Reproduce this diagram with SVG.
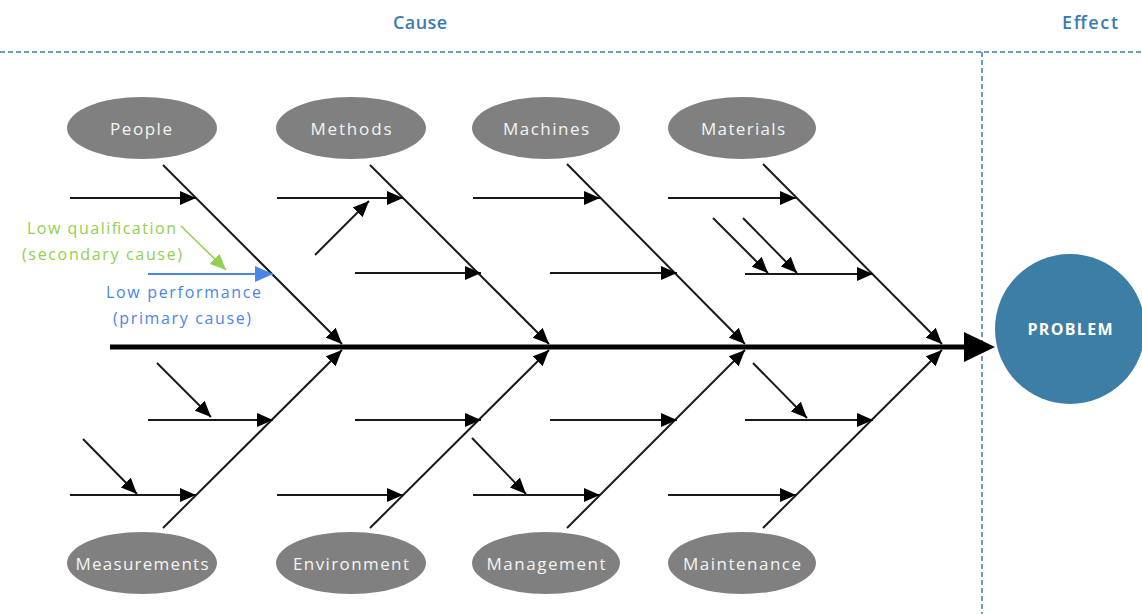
<svg xmlns="http://www.w3.org/2000/svg" width="1142" height="614" viewBox="0 0 1142 614">
<style>
.cat{fill:#808080}
.cat-t{font-family:"Open Sans","Liberation Sans",sans-serif;font-size:17px;fill:#f4f4f4;text-anchor:middle;dominant-baseline:central}
.hdr{font-family:"Open Sans","Liberation Sans",sans-serif;font-size:18px;font-weight:600;fill:#3b7cb0;text-anchor:middle}
.dash{stroke:#3d7ea6;stroke-width:1.5;stroke-dasharray:5 3;fill:none}
.bone{stroke:#1a1a1a;stroke-width:2;fill:none;marker-end:url(#ah)}
.sub{stroke:#1a1a1a;stroke-width:2;fill:none;marker-end:url(#ah)}
.note{font-family:"Open Sans","Liberation Sans",sans-serif;font-size:16px}
</style>
<defs>
<marker id="ah" markerUnits="userSpaceOnUse" markerWidth="16" markerHeight="14" viewBox="0 0 16 14" refX="16" refY="7" orient="auto">
<path d="M0,0 L16,7 L0,14 Z" fill="#000"/>
</marker>
<marker id="ahg" markerUnits="userSpaceOnUse" markerWidth="16" markerHeight="14" viewBox="0 0 16 14" refX="16" refY="7" orient="auto">
<path d="M0,0 L16,7 L0,14 Z" fill="#92d050"/>
</marker>
<marker id="ahb" markerUnits="userSpaceOnUse" markerWidth="18" markerHeight="16" viewBox="0 0 18 16" refX="18" refY="8" orient="auto">
<path d="M0,0 L18,8 L0,16 Z" fill="#4a86e8"/>
</marker>
</defs>
<rect width="1142" height="614" fill="#fff"/>
<g id="header">
<text class="hdr" x="420" y="29" textLength="54" lengthAdjust="spacing">Cause</text>
<text class="hdr" x="1090" y="29" textLength="56" lengthAdjust="spacing">Effect</text>
<line class="dash" x1="0" y1="52" x2="1142" y2="52"/>
<line class="dash" x1="982" y1="52" x2="982" y2="614"/>
</g>
<g id="connectors">
<line x1="110" y1="347" x2="968" y2="347" stroke="#000" stroke-width="5"/>
<path d="M964,332 L995,347 L964,362 Z" fill="#000"/>
<line class="bone" x1="163" y1="165" x2="342" y2="344"/>
<line class="bone" x1="370" y1="165" x2="549" y2="344"/>
<line class="bone" x1="567" y1="164" x2="745" y2="344"/>
<line class="bone" x1="763" y1="164" x2="942" y2="344"/>
<line class="bone" x1="163" y1="528" x2="342" y2="350"/>
<line class="bone" x1="370" y1="528" x2="549" y2="350"/>
<line class="bone" x1="567" y1="528" x2="745" y2="350"/>
<line class="bone" x1="763" y1="528" x2="942" y2="350"/>
<line class="sub" x1="70" y1="198" x2="196" y2="198"/>
<line class="sub" x1="277" y1="198" x2="403" y2="198"/>
<line class="sub" x1="473" y1="198" x2="600" y2="198"/>
<line class="sub" x1="668" y1="198" x2="796" y2="198"/>
<line x1="148" y1="274" x2="273" y2="274" stroke="#4a86e8" stroke-width="2" marker-end="url(#ahb)"/>
<line class="sub" x1="355" y1="273" x2="481" y2="273"/>
<line class="sub" x1="550" y1="273" x2="677" y2="273"/>
<line class="sub" x1="745" y1="274" x2="873" y2="274"/>
<line class="sub" x1="148" y1="420" x2="273" y2="420"/>
<line class="sub" x1="355" y1="420" x2="481" y2="420"/>
<line class="sub" x1="550" y1="420" x2="677" y2="420"/>
<line class="sub" x1="745" y1="420" x2="873" y2="420"/>
<line class="sub" x1="70" y1="495" x2="196" y2="495"/>
<line class="sub" x1="277" y1="495" x2="403" y2="495"/>
<line class="sub" x1="473" y1="495" x2="600" y2="495"/>
<line class="sub" x1="668" y1="495" x2="796" y2="495"/>
<line class="sub" x1="315" y1="255" x2="369" y2="201"/>
<line class="sub" x1="713" y1="218" x2="768" y2="273"/>
<line class="sub" x1="743" y1="218" x2="797" y2="273"/>
<line class="sub" x1="157" y1="363" x2="211" y2="417"/>
<line class="sub" x1="83" y1="439" x2="137" y2="494"/>
<line class="sub" x1="472" y1="438" x2="526" y2="494"/>
<line class="sub" x1="753" y1="363" x2="807" y2="418"/>
<line x1="181" y1="226" x2="226" y2="270" stroke="#92d050" stroke-width="1.5" marker-end="url(#ahg)"/>
</g>
<g id="notes">
<text class="note" fill="#92d050" x="27" y="234" textLength="149" lengthAdjust="spacing">Low qualification</text>
<text class="note" fill="#92d050" x="22" y="260" textLength="160" lengthAdjust="spacing">(secondary cause)</text>
<text class="note" fill="#4a86e8" x="106" y="298" textLength="155" lengthAdjust="spacing">Low performance</text>
<text class="note" fill="#4a86e8" x="113" y="324" textLength="138" lengthAdjust="spacing">(primary cause)</text>
</g>
<g id="people"><ellipse class="cat" cx="142" cy="128" rx="75" ry="31"/><text class="cat-t" x="141" y="128" textLength="62" lengthAdjust="spacing">People</text></g>
<g id="methods"><ellipse class="cat" cx="351" cy="128" rx="75" ry="31"/><text class="cat-t" x="351" y="128" textLength="81" lengthAdjust="spacing">Methods</text></g>
<g id="machines"><ellipse class="cat" cx="546" cy="128" rx="74" ry="31"/><text class="cat-t" x="546" y="128" textLength="86" lengthAdjust="spacing">Machines</text></g>
<g id="materials"><ellipse class="cat" cx="742" cy="128" rx="74" ry="31"/><text class="cat-t" x="743" y="128" textLength="84" lengthAdjust="spacing">Materials</text></g>
<g id="measurements"><ellipse class="cat" cx="142" cy="563" rx="75" ry="31"/><text class="cat-t" x="142" y="563" textLength="133" lengthAdjust="spacing">Measurements</text></g>
<g id="environment"><ellipse class="cat" cx="351" cy="563" rx="75" ry="31"/><text class="cat-t" x="351" y="563" textLength="116" lengthAdjust="spacing">Environment</text></g>
<g id="management"><ellipse class="cat" cx="546" cy="563" rx="74" ry="31"/><text class="cat-t" x="546" y="563" textLength="119" lengthAdjust="spacing">Management</text></g>
<g id="maintenance"><ellipse class="cat" cx="742" cy="563" rx="74" ry="31"/><text class="cat-t" x="742" y="563" textLength="118" lengthAdjust="spacing">Maintenance</text></g>
<g id="problem"><circle cx="1070" cy="329" r="75" fill="#3d7ea6"/><text x="1070" y="329" font-family="'Open Sans','Liberation Sans',sans-serif" font-size="16" font-weight="700" fill="#fff" text-anchor="middle" dominant-baseline="central" textLength="85" lengthAdjust="spacing">PROBLEM</text></g>
</svg>
